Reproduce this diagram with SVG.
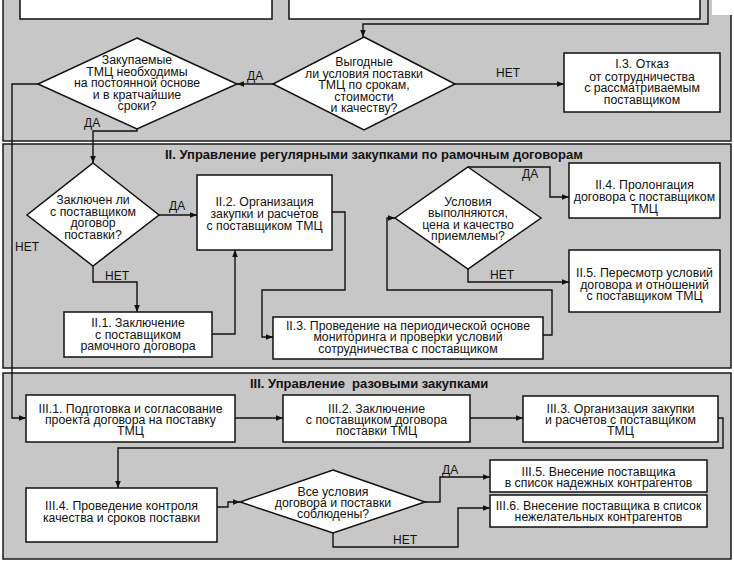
<svg xmlns="http://www.w3.org/2000/svg" width="734" height="561" viewBox="0 0 734 561">
<style>
.sec{fill:#c7c7c7;stroke:#1a1a1a;stroke-width:1.5}
.box{fill:#ffffff;stroke:#111;stroke-width:1.5}
.dia{fill:#ffffff;stroke:#111;stroke-width:1.5}
.con{fill:none;stroke:#111;stroke-width:1.4;marker-end:url(#ah)}
text{font-family:"Liberation Sans",Arial,sans-serif;fill:#111}
.t{font-size:12.3px;text-anchor:middle}
.lbl{font-size:12px}
.ttl{font-size:13px;font-weight:bold}
</style>
<defs>
<marker id="ah" viewBox="0 0 10 10" refX="10" refY="5" markerWidth="7" markerHeight="7" markerUnits="userSpaceOnUse" orient="auto">
<path d="M0,1 L10,5 L0,9 z" fill="#111"/>
</marker>
</defs>
<rect width="734" height="561" fill="#ffffff"/>
<g id="sections">
<rect class="sec" x="3" y="-5" width="728" height="146"/>
<rect class="sec" x="3" y="144" width="728" height="224"/>
<rect class="sec" x="3" y="373" width="728" height="186"/>
<rect x="712" y="0" width="22" height="15" fill="#ffffff"/>
</g>
<g id="top-left-box"><rect class="box" x="20" y="-2" width="252" height="21"/></g>
<g id="top-right-box"><rect class="box" x="289" y="-2" width="411" height="21"/></g>

<g id="connectors">
<path class="con" d="M708,0 V24 H363 V37"/>
<path class="con" d="M273,84 H237"/>
<path class="con" d="M455,84 H564"/>
<path class="con" d="M38,84 H12 V418 H26"/>
<path class="con" d="M137,129 V131 H93 V163"/>
<path class="con" d="M159,215 H197"/>
<path class="con" d="M93,266 V282 H137 V312"/>
<path class="con" d="M212,334 H235 V250"/>
<path class="con" d="M332,212 H345 V290 H262 V337 H273"/>
<path class="con" d="M543,335 H552 V290 H387 V218 H395"/>
<path class="con" d="M468,167 H550 V197 H569"/>
<path class="con" d="M468,269 V282 H569"/>
<path class="con" d="M235,418 H283"/>
<path class="con" d="M470,418 H523"/>
<path class="con" d="M718,418 H723 V448 H118 V488"/>
<path class="con" d="M217,507 H228 V502 H240"/>
<path class="con" d="M425,502 H440 V477 H490"/>
<path class="con" d="M333,533 V547 H458 V508 H490"/>
<text class="lbl" x="247" y="80">ДА</text>
<text class="lbl" x="496" y="77">НЕТ</text>
<text class="lbl" x="15" y="251">НЕТ</text>
<text class="lbl" x="84" y="127">ДА</text>
<text class="lbl" x="169" y="210">ДА</text>
<text class="lbl" x="105" y="280">НЕТ</text>
<text class="lbl" x="522" y="178">ДА</text>
<text class="lbl" x="490" y="279">НЕТ</text>
<text class="lbl" x="442" y="474">ДА</text>
<text class="lbl" x="393" y="544">НЕТ</text>
</g>

<g id="d1">
<polygon class="dia" points="364,37 455,84 364,130 273,84"/>
<text class="t" y="66"><tspan x="364">Выгодные</tspan><tspan x="364" dy="11.5">ли условия поставки</tspan><tspan x="364" dy="11.5">ТМЦ по срокам,</tspan><tspan x="364" dy="11.5">стоимости</tspan><tspan x="364" dy="11.5">и качеству?</tspan></text>
</g>
<g id="d2">
<polygon class="dia" points="137,38 237,84 137,129 38,84"/>
<text class="t" y="64"><tspan x="137">Закупаемые</tspan><tspan x="137" dy="11.5">ТМЦ необходимы</tspan><tspan x="137" dy="11.5">на постоянной основе</tspan><tspan x="137" dy="11.5">и в кратчайшие</tspan><tspan x="137" dy="11.5">сроки?</tspan></text>
</g>
<g id="i3">
<rect class="box" x="564" y="53" width="156" height="59"/>
<text class="t" y="68"><tspan x="642">I.3. Отказ</tspan><tspan x="642" dy="12.5">от сотрудничества</tspan><tspan x="642" dy="11.5">с рассматриваемым</tspan><tspan x="642" dy="11.5">поставщиком</tspan></text>
</g>

<g id="title2"><text class="ttl" x="165" y="159">II. Управление регулярными закупками по рамочным договорам</text></g>
<g id="d3">
<polygon class="dia" points="93,163 159,215 93,266 27,215"/>
<text class="t" y="204"><tspan x="93">Заключен ли</tspan><tspan x="93" dy="11.5">с поставщиком</tspan><tspan x="93" dy="11.5">договор</tspan><tspan x="93" dy="11.5">поставки?</tspan></text>
</g>
<g id="ii2">
<rect class="box" x="197" y="175" width="135" height="75"/>
<text class="t" y="206"><tspan x="264.5">II.2. Организация</tspan><tspan x="264.5" dy="12">закупки и расчетов</tspan><tspan x="264.5" dy="11.5">с поставщиком ТМЦ</tspan></text>
</g>
<g id="ii1">
<rect class="box" x="64" y="312" width="148" height="45"/>
<text class="t" y="327"><tspan x="138">II.1. Заключение</tspan><tspan x="138" dy="11.5">с поставщиком</tspan><tspan x="138" dy="11.5">рамочного договора</tspan></text>
</g>
<g id="ii3">
<rect class="box" x="273" y="317" width="270" height="42"/>
<text class="t" y="330"><tspan x="408">II.3. Проведение на периодической основе</tspan><tspan x="408" dy="11.3">мониторинга и проверки условий</tspan><tspan x="408" dy="11.3">сотрудничества с поставщиком</tspan></text>
</g>
<g id="d4">
<polygon class="dia" points="468,167 541,218 468,269 395,218"/>
<text class="t" y="206"><tspan x="468">Условия</tspan><tspan x="468" dy="11.3">выполняются,</tspan><tspan x="468" dy="11.3">цена и качество</tspan><tspan x="468" dy="11.3">приемлемы?</tspan></text>
</g>
<g id="ii4">
<rect class="box" x="569" y="163" width="151" height="55"/>
<text class="t" y="189"><tspan x="644.5">II.4. Пролонгация</tspan><tspan x="644.5" dy="12">договора с поставщиком</tspan><tspan x="644.5" dy="11.5">ТМЦ</tspan></text>
</g>
<g id="ii5">
<rect class="box" x="569" y="250" width="151" height="62"/>
<text class="t" y="277"><tspan x="644.5">II.5. Пересмотр условий</tspan><tspan x="644.5" dy="11.5">договора и отношений</tspan><tspan x="644.5" dy="11.5">с поставщиком ТМЦ</tspan></text>
</g>

<g id="title3"><text class="ttl" x="250" y="388" xml:space="preserve">III. Управление  разовыми закупками</text></g>
<g id="iii1">
<rect class="box" x="26" y="395" width="209" height="47"/>
<text class="t" y="413"><tspan x="130.5">III.1. Подготовка и согласование</tspan><tspan x="130.5" dy="11.2">проекта договора на поставку</tspan><tspan x="130.5" dy="11.2">ТМЦ</tspan></text>
</g>
<g id="iii2">
<rect class="box" x="283" y="395" width="187" height="47"/>
<text class="t" y="413"><tspan x="376.5">III.2. Заключение</tspan><tspan x="376.5" dy="11.2">с поставщиком договора</tspan><tspan x="376.5" dy="11.2">поставки ТМЦ</tspan></text>
</g>
<g id="iii3">
<rect class="box" x="523" y="396" width="195" height="46"/>
<text class="t" y="413"><tspan x="620.5">III.3. Организация закупки</tspan><tspan x="620.5" dy="11.2">и расчетов с поставщиком</tspan><tspan x="620.5" dy="11.2">ТМЦ</tspan></text>
</g>
<g id="iii4">
<rect class="box" x="26" y="488" width="191" height="54"/>
<text class="t" y="510"><tspan x="121.5">III.4. Проведение контроля</tspan><tspan x="121.5" dy="12">качества и сроков поставки</tspan></text>
</g>
<g id="d5">
<polygon class="dia" points="333,470 425,502 333,533 240,502"/>
<text class="t" y="496"><tspan x="333">Все условия</tspan><tspan x="333" dy="10.8">договора и поставки</tspan><tspan x="333" dy="10.8">соблюдены?</tspan></text>
</g>
<g id="iii5">
<rect class="box" x="490" y="460" width="217" height="32"/>
<text class="t" y="476"><tspan x="598.5">III.5. Внесение поставщика</tspan><tspan x="598.5" dy="11.2">в список надежных контрагентов</tspan></text>
</g>
<g id="iii6">
<rect class="box" x="490" y="495" width="217" height="32"/>
<text class="t" y="509.5"><tspan x="598.5">III.6. Внесение поставщика в список</tspan><tspan x="598.5" dy="11.2">нежелательных контрагентов</tspan></text>
</g>
</svg>
